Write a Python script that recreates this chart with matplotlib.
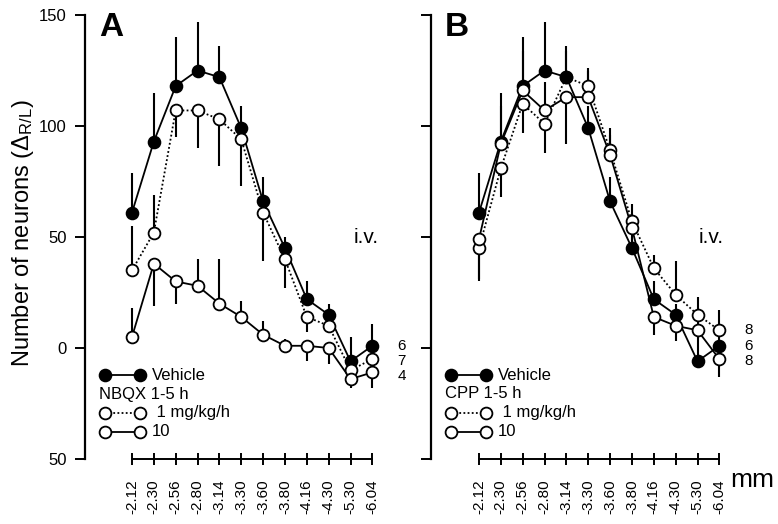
import matplotlib
matplotlib.use('Agg')
import matplotlib.pyplot as plt
from matplotlib.lines import Line2D
import numpy as np

plt.rcParams['font.family'] = 'Liberation Sans'
plt.rcParams['mathtext.fontset'] = 'custom'
plt.rcParams['mathtext.rm'] = 'Liberation Sans'
plt.rcParams['mathtext.it'] = 'Liberation Sans'
plt.rcParams['mathtext.default'] = 'regular'

# levels relative to bregma (mm)
levels = ['-2.12', '-2.30', '-2.56', '-2.80', '-3.14', '-3.30',
          '-3.60', '-3.80', '-4.16', '-4.30', '-5.30', '-6.04']

# vehicle (same group in both panels)
vehicle = [61, 93, 118, 125, 122, 99, 66, 45, 22, 15, -6, 1]
vehicle_lo = [0, 0, 0, 0, 0, 0, 0, 0, 0, 0, 0, 0]
vehicle_hi = [18, 22, 22, 22, 14, 10, 11, 5, 8, 5, 11, 10]

# A: NBQX 1-5 h
nbqx1 = [35, 52, 107, 107, 103, 94, 61, 40, 14, 10, -10, -5]
nbqx1_lo = [0, 0, 12, 17, 21, 21, 22, 13, 7, 0, 7, 7]
nbqx1_hi = [20, 17, 0, 0, 0, 0, 0, 0, 0, 8, 0, 0]
nbqx10 = [5, 38, 30, 28, 20, 14, 6, 1, 1, 0, -14, -11]
nbqx10_lo = [0, 19, 10, 0, 0, 0, 0, 0, 7, 7, 4, 7]
nbqx10_hi = [13, 0, 0, 12, 20, 7, 6, 3, 0, 0, 0, 0]

# B: CPP 1-5 h
cpp1 = [45, 81, 110, 101, 122, 118, 89, 57, 36, 24, 15, 8]
cpp1_lo = [15, 13, 13, 13, 0, 0, 0, 0, 0, 0, 0, 0]
cpp1_hi = [0, 0, 0, 0, 12, 8, 10, 8, 6, 15, 8, 9]
cpp10 = [49, 92, 116, 107, 113, 113, 87, 54, 14, 10, 8, -5]
cpp10_lo = [18, 0, 0, 0, 21, 0, 0, 11, 8, 7, 0, 8]
cpp10_hi = [0, 17, 18, 13, 0, 12, 9, 0, 0, 0, 5, 0]

# group sizes, listed top to bottom at the right end
n_a = ['6', '7', '4']
n_b = ['8', '6', '8']

W, H = 778, 524
fig = plt.figure(figsize=(W / 100, H / 100), dpi=100)
x = np.arange(len(levels))

STYLES = {
    'veh': dict(ls='-', mfc='black'),
    'low': dict(ls=(0, (1, 1.3)), mfc='white'),
    'high': dict(ls='-', mfc='white'),
}


def fx(px):
    return px / W


def fy(py):
    return 1 - py / H


def panel(left_px, x0_px, letter, drug, groups, nlabs, iv_px):
    ax = fig.add_axes([fx(left_px), fy(459), 315 / W, 444 / H])
    step = 21.85
    lo = -(x0_px - left_px) / step
    ax.set_xlim(lo, lo + 315 / step)
    ax.set_ylim(-50, 150)

    for y, elo, ehi, key in groups:
        st = STYLES[key]
        ax.errorbar(x, y, yerr=[elo, ehi], fmt='none', ecolor='black',
                    elinewidth=1.5, capsize=0, zorder=2, clip_on=False)
        ax.plot(x, y, color='black', lw=1.3, ls=st['ls'], zorder=3,
                clip_on=False)
        ax.plot(x, y, ls='none', marker='o', ms=8.5, mfc=st['mfc'],
                mec='black', mew=1.3, zorder=4, clip_on=False)

    # n per group, stacked next to the last points
    top = max(g[0][-1] for g in groups)
    for i, n in enumerate(nlabs):
        ax.annotate(n, xy=(x[-1], top), xytext=(21, -11 * i),
                    textcoords='offset points', va='center', ha='center',
                    fontsize=11, annotation_clip=False)

    ax.spines['top'].set_visible(False)
    ax.spines['right'].set_visible(False)
    ax.spines['left'].set_linewidth(1.6)
    ax.spines['bottom'].set_linewidth(1.4)
    ax.spines['bottom'].set_bounds(0, len(levels) - 1)

    ax.set_yticks([-50, 0, 50, 100, 150])
    ax.set_yticklabels(['50', '0', '50', '100', '150'])
    ax.tick_params(axis='y', direction='out', length=7, width=1.4,
                   pad=6, labelsize=12)
    ax.set_xticks(x)
    ax.set_xticklabels(levels, rotation=90)
    ax.tick_params(axis='x', direction='inout', length=9, width=1.4,
                   pad=10, labelsize=11)

    # panel letter and route
    fig.text(fx(left_px + 14), fy(36), letter, fontsize=24,
             fontweight='bold', ha='left', va='baseline')
    fig.text(fx(iv_px), fy(237), 'i.v.', fontsize=15, ha='center',
             va='center')

    # legend drawn by hand
    lx = left_px
    rows = [(375, 'veh', 'Vehicle'), (413, 'low', ' 1 mg/kg/h'),
            (432, 'high', '10')]
    for py, key, txt in rows:
        st = STYLES[key]
        fig.add_artist(Line2D([fx(lx + 20), fx(lx + 55)], [fy(py), fy(py)],
                              color='black', lw=1.3, ls=st['ls'],
                              marker='o', ms=8.5, mfc=st['mfc'],
                              mec='black', mew=1.3))
        fig.text(fx(lx + 67), fy(py), txt, fontsize=12, ha='left',
                 va='center')
    fig.text(fx(lx + 14), fy(394), drug + ' 1-5 h', fontsize=12,
             ha='left', va='center')
    return ax


axA = panel(85, 132, 'A', 'NBQX',
            [(vehicle, vehicle_lo, vehicle_hi, 'veh'),
             (nbqx1, nbqx1_lo, nbqx1_hi, 'low'),
             (nbqx10, nbqx10_lo, nbqx10_hi, 'high')], n_a, 366)
axB = panel(431, 479, 'B', 'CPP',
            [(cpp1, cpp1_lo, cpp1_hi, 'low'),
             (vehicle, vehicle_lo, vehicle_hi, 'veh'),
             (cpp10, cpp10_lo, cpp10_hi, 'high')], n_b, 711)
axB.tick_params(axis='y', labelleft=False)

fig.text(fx(23), fy(233), r'Number of neurons ($\Delta_{R/L}$)',
         rotation=90, fontsize=17, ha='center', va='center')
fig.text(fx(752), fy(480), 'mm', fontsize=19, ha='center', va='center')

fig.savefig('out.png', dpi=100)
